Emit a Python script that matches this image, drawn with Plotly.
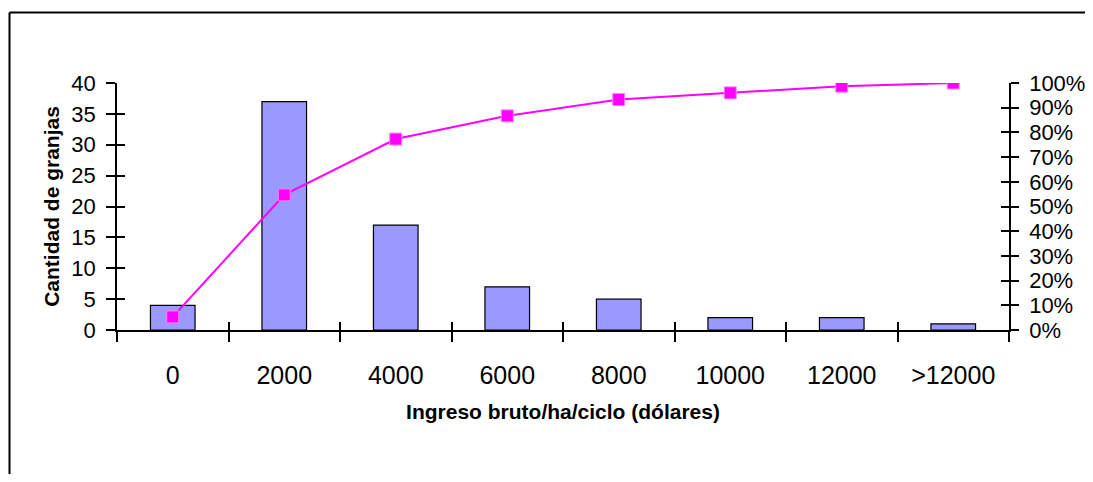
import plotly.graph_objects as go

categories = ["0", "2000", "4000", "6000", "8000", "10000", "12000", ">12000"]
frequency = [4, 37, 17, 7, 5, 2, 2, 1]
cumulative_pct = [0.053, 0.547, 0.773, 0.867, 0.933, 0.960, 0.987, 1.000]

y_ticks = [0, 5, 10, 15, 20, 25, 30, 35, 40]
pct_ticks = [i / 10 for i in range(11)]

FONT = "Liberation Sans, Arial, sans-serif"
# page body has an 8px margin on every side: figure coords = page coords - 8
OFF = 8
W, H = 1093 - 2 * OFF, 482 - 2 * OFF
L, T = 117 - OFF, 83 - OFF
R = W - (1009 - OFF)
B = H - (330 - OFF)

fig = go.Figure()
fig.add_trace(go.Bar(
    x=categories, y=frequency, width=0.4,
    marker=dict(color="#9999FF", line=dict(color="black", width=1.2)),
    xaxis="x", yaxis="y", showlegend=False,
))
fig.add_trace(go.Scatter(
    x=categories, y=cumulative_pct, mode="lines+markers",
    line=dict(color="#FF00FF", width=2),
    marker=dict(symbol="square", size=12, color="#FF00FF",
                line=dict(color="#FF80FF", width=1)),
    xaxis="x", yaxis="y2", showlegend=False,
))
# helper empty traces so the overlay axes (for crossing tick marks) are drawn
fig.add_trace(go.Scatter(x=[], y=[], xaxis="x2", yaxis="y3", showlegend=False))
fig.add_trace(go.Scatter(x=[], y=[], xaxis="x2", yaxis="y4", showlegend=False))

ytickfont = dict(family=FONT, size=22, color="black")
xtickfont = dict(family=FONT, size=25, color="black")
fig.update_layout(
    width=W, height=H,
    margin=dict(l=L, r=R, t=T, b=B, pad=0, autoexpand=False),
    paper_bgcolor="white", plot_bgcolor="white",
    font=dict(family=FONT, color="black"),
    xaxis=dict(
        type="category", categoryorder="array", categoryarray=categories,
        range=[-0.5, 7.5], tickson="boundaries",
        ticks="outside", ticklen=10, tickwidth=1.5, tickcolor="black",
        showline=True, linecolor="black", linewidth=1.5,
        showgrid=False, zeroline=False, tickfont=xtickfont,
        ticklabelstandoff=22,
        title=dict(text="<b>Ingreso bruto/ha/ciclo (dólares)</b>",
                   font=dict(family=FONT, size=21), standoff=17),
    ),
    xaxis2=dict(
        type="category", categoryorder="array", categoryarray=categories,
        range=[-0.5, 7.5], tickson="boundaries", overlaying="x",
        anchor="y", ticks="inside", ticklen=8, tickwidth=1.5, tickcolor="black",
        showticklabels=False, showline=False, showgrid=False, zeroline=False,
    ),
    yaxis=dict(
        range=[0, 40], tickvals=y_ticks,
        ticks="outside", ticklen=9, tickwidth=1.5, tickcolor="black",
        showline=True, linecolor="black", linewidth=1.5,
        showgrid=False, zeroline=False, tickfont=ytickfont,
        ticklabelstandoff=6,
        title=dict(text="<b>Cantidad de granjas</b>",
                   font=dict(family=FONT, size=21), standoff=6),
    ),
    yaxis2=dict(
        range=[0, 1], tickvals=pct_ticks, tickformat=".0%",
        overlaying="y", side="right", anchor="x",
        ticks="outside", ticklen=8, tickwidth=1.5, tickcolor="black",
        showline=True, linecolor="black", linewidth=1.5,
        showgrid=False, zeroline=False, tickfont=ytickfont,
        ticklabelstandoff=6,
    ),
    yaxis3=dict(
        range=[0, 40], tickvals=y_ticks, overlaying="y", side="left",
        anchor="x2", ticks="inside", ticklen=8, tickwidth=1.5, tickcolor="black",
        showticklabels=False, showline=False, showgrid=False, zeroline=False,
    ),
    yaxis4=dict(
        range=[0, 1], tickvals=pct_ticks, overlaying="y", side="right",
        anchor="x2", ticks="inside", ticklen=8, tickwidth=1.5, tickcolor="black",
        showticklabels=False, showline=False, showgrid=False, zeroline=False,
    ),
)

# outer chart-area frame: only its left and top edges fall on the page
pw, ph = W - L - R, H - T - B
fx0, fy0 = 9.5 - OFF, 12.5 - OFF
px_left = (fx0 - L) / pw
px_right = (W + 40 - L) / pw
py_top = (H - B - fy0) / ph
py_bottom = (H - B - (H + 40)) / ph
frame = dict(color="black", width=2)
fig.add_shape(type="line", xref="paper", yref="paper", layer="below",
              x0=px_left, x1=px_left, y0=py_bottom, y1=py_top, line=frame)
fig.add_shape(type="line", xref="paper", yref="paper", layer="below",
              x0=px_left, x1=px_right, y0=py_top, y1=py_top, line=frame)

fig.write_html("out.html", config={"displayModeBar": False})
